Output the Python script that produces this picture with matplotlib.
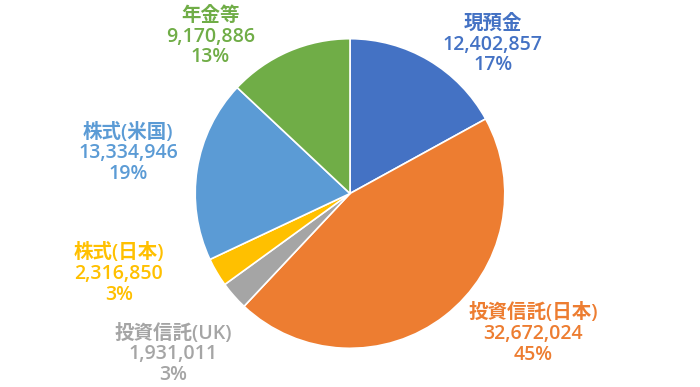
import matplotlib.pyplot as plt

plt.rcParams['font.family'] = ['Open Sans', 'Noto Sans CJK JP', 'DejaVu Sans']

# data
labels = ['現預金', '投資信託(日本)', '投資信託(UK)', '株式(日本)', '株式(米国)', '年金等']
amounts = [12402857, 32672024, 1931011, 2316850, 13334946, 9170886]
percents = [17, 45, 3, 3, 19, 13]
colors = ['#4472C4', '#ED7D31', '#A5A5A5', '#FFC000', '#5B9BD5', '#70AD47']

# label centres in pixels (x, y from top)
label_px = [(490, 42), (530, 330), (172, 350), (118, 270), (127, 150), (209, 34)]

W, H = 700, 387
cx, cy, r = 348, 190, 154

fig = plt.figure(figsize=(W / 100, H / 100), dpi=100)
ax = fig.add_axes([0, 0, 1, 1])
ax.set_xlim(-cx / r, (W - cx) / r)
ax.set_ylim(-(H - cy) / r, cy / r)
ax.set_aspect('equal')
ax.axis('off')

ax.pie(percents, colors=colors, startangle=90, counterclock=False, radius=1,
       wedgeprops=dict(edgecolor='white', linewidth=1.2))

for lab, amt, pct, col, (px, py) in zip(labels, amounts, percents, colors, label_px):
    x = (px - cx) / r
    y = (cy - py) / r
    txt = lab + '\n' + f'{amt:,}' + '\n' + f'{pct}%'
    ax.text(x, y, txt, color=col, fontsize=14, fontweight='semibold',
            ha='center', va='center', linespacing=1.05)

fig.savefig('out.png', dpi=100)
